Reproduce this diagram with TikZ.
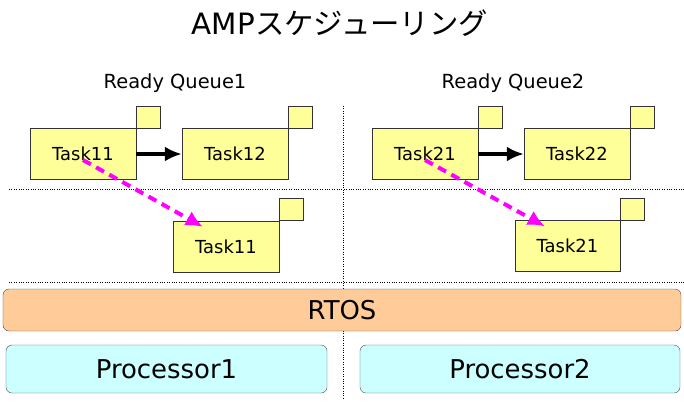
\documentclass[tikz,border=0pt]{standalone}
\usepackage{fontspec}
\setmainfont{DejaVu Sans}
\newfontfamily\jpfont{Noto Sans CJK JP}
\usetikzlibrary{positioning,arrows.meta}
\definecolor{taskyellow}{HTML}{FFFF99}
\definecolor{osorange}{HTML}{FFCC99}
\definecolor{cpucyan}{HTML}{CCFFFF}
\definecolor{movepink}{HTML}{FF00FF}

\begin{document}
\begin{tikzpicture}[x=1bp,y=-1bp,task/.style={draw=black!80,fill=taskyellow,minimum width=106bp,minimum height=51bp,inner sep=0pt,font=\fontsize{18}{20}\selectfont}, tag/.style={draw=black!80,fill=taskyellow,minimum width=24bp,minimum height=22bp,inner sep=0pt}, layer/.style={draw=black!70,rounded corners=6bp,inner sep=0pt,font=\fontsize{26}{30}\selectfont}, queue/.style={font=\fontsize{19.5}{22}\selectfont}, push/.style={-{Latex[length=17bp,width=15bp]},line width=4.5bp}, move/.style={-{Latex[length=17bp,width=16bp]},line width=4bp,movepink,dash pattern=on 9bp off 6bp}, sep/.style={dotted,thin}]
        \useasboundingbox (0,0) rectangle (684,403);
        
        \node[font=\fontsize{29.5}{34}\selectfont] (title) at (340,23) {AMP{\jpfont スケジューリング}};
        \node[queue] (q1) at (175,83) {Ready Queue1};
        \node[queue] (q2) at (513,83) {Ready Queue2};
        
        \draw[sep] (343,106) -- (343,400);
        \draw[sep] (9,189) -- (684,189);
        \draw[sep] (9,282) -- (684,282);
        
        \node[task] (t11) at (83,154) {Task11};
        \node[task] (t12) at (235,154) {Task12};
        \node[task] (t11b) at (226,246.5) {Task11};
        \node[task] (t21) at (425,154) {Task21};
        \node[task] (t22) at (577,154) {Task22};
        \node[task,minimum width=105bp] (t21b) at (567.5,246) {Task21};
        
        \node[tag] (g11) [above right = 0pt and 0pt of t11] {};
        \node[tag] (g12) [above right = 0pt and 0pt of t12] {};
        \node[tag] (g11b) [above right = 0pt and 0pt of t11b] {};
        \node[tag] (g21) [above right = 0pt and 0pt of t21] {};
        \node[tag] (g22) [above right = 0pt and 0pt of t22] {};
        \node[tag] (g21b) [above right = 0pt and 0pt of t21b] {};
        
        \draw[push] (t11) -- (t12);
        \draw[push] (t21) -- (t22);
        \draw[move] ([yshift=-6bp]t11.center) -- ([shift={(30bp,-6bp)}]t11b.north west);
        \draw[move] ([yshift=-6bp]t21.center) -- ([shift={(30bp,-6bp)}]t21b.north west);
        
        \node[layer,fill=osorange,minimum width=678bp,minimum height=42bp] (rtos) at (342,310) {RTOS};
        \node[layer,fill=cpucyan,minimum width=321bp,minimum height=48bp] (cpu1) at (166.5,369) {Processor1};
        \node[layer,fill=cpucyan,minimum width=320bp,minimum height=48bp] (cpu2) at (520,369) {Processor2};
    \end{tikzpicture}
\end{document}
